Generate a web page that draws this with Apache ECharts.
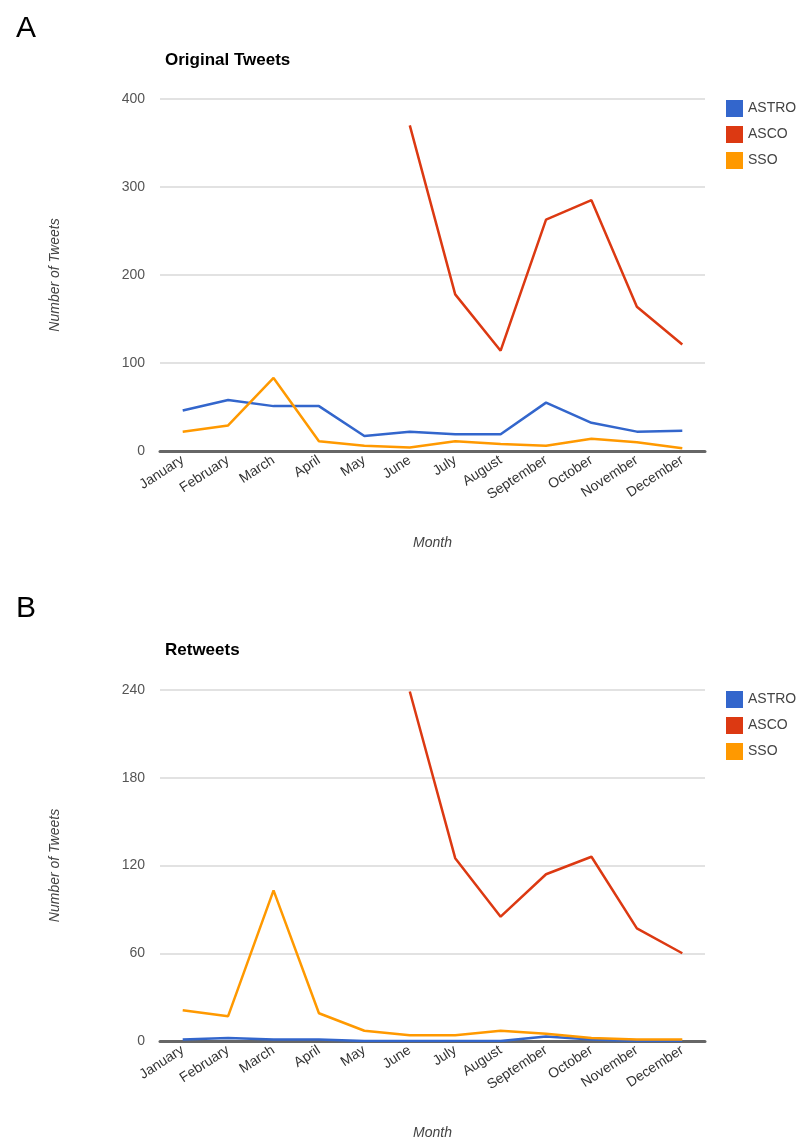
<!DOCTYPE html>
<html>
<head>
<meta charset="utf-8">
<script src="https://cdn.jsdelivr.net/npm/echarts@6/dist/echarts.min.js"></script>
<style>
  html, body { margin: 0; padding: 0; background: #fff; }
  #main { width: 808px; height: 1142px; }
</style>
</head>
<body>
<div id="main"></div>
<script>
// months on the x axis
var months = ['January', 'February', 'March', 'April', 'May', 'June',
              'July', 'August', 'September', 'October', 'November', 'December'];

// A: original tweets
var origAstro = [46, 58, 51, 51, 17, 22, 19, 19, 55, 32, 22, 23];
var origAsco  = [null, null, null, null, null, 370, 178, 114, 263, 285, 164, 121];
var origSso   = [22, 29, 83, 11, 6, 4, 11, 8, 6, 14, 10, 3];

// B: retweets
var rtAstro = [1, 2, 1, 1, 0, 0, 0, 0, 3, 1, 0, 0];
var rtAsco  = [null, null, null, null, null, 239, 125, 85, 114, 126, 77, 60];
var rtSso   = [21, 17, 103, 19, 7, 4, 4, 7, 5, 2, 1, 1];

var colors = ['#3366cc', '#dc3912', '#ff9900'];
var names = ['ASTRO', 'ASCO', 'SSO'];

var myChart = echarts.init(document.getElementById('main'), null, {renderer: 'canvas'});

function xAxisFor(idx) {
    return {
        type: 'category',
        gridIndex: idx,
        data: months,
        boundaryGap: true,
        name: 'Month',
        nameLocation: 'middle',
        nameGap: 85,
        nameTextStyle: {fontStyle: 'italic', fontSize: 14, color: '#444', fontFamily: 'Arial'},
        axisLine: {lineStyle: {color: '#666', width: 3}},
        axisTick: {show: false},
        axisLabel: {rotate: 33, fontSize: 14, color: '#333', fontFamily: 'Arial', margin: 8, interval: 0},
        splitLine: {show: false}
    };
}

function yAxisFor(idx, max, step) {
    return {
        type: 'value',
        gridIndex: idx,
        min: 0,
        max: max,
        interval: step,
        name: 'Number of Tweets',
        nameLocation: 'middle',
        nameGap: 98,
        nameRotate: 90,
        nameTextStyle: {fontStyle: 'italic', fontSize: 14, color: '#444', fontFamily: 'Arial'},
        axisLine: {show: false},
        axisTick: {show: false},
        axisLabel: {fontSize: 14, color: '#555', fontFamily: 'Arial', margin: 15},
        splitLine: {lineStyle: {color: '#d9d9d9', width: 1.5}}
    };
}

function lineSeries(name, data, xi, color) {
    return {
        name: name,
        type: 'line',
        xAxisIndex: xi,
        yAxisIndex: xi,
        data: data,
        showSymbol: false,
        connectNulls: false,
        animation: false,
        lineStyle: {color: color, width: 2.5},
        itemStyle: {color: color}
    };
}

function legendFor(top) {
    return {
        data: names,
        orient: 'vertical',
        left: 721,
        top: top,
        icon: 'rect',
        itemWidth: 17,
        itemHeight: 17,
        itemGap: 9,
        textStyle: {fontSize: 14, color: '#444', fontFamily: 'Arial'}
    };
}

option = {
    color: colors,
    title: [
        {text: 'A', left: 11, top: 9, textStyle: {fontSize: 30, fontWeight: 'normal', color: '#000', fontFamily: 'Arial'}},
        {text: 'Original Tweets', left: 160, top: 47, textStyle: {fontSize: 17, fontWeight: 'bold', color: '#000', fontFamily: 'Arial'}},
        {text: 'B', left: 11, top: 589, textStyle: {fontSize: 30, fontWeight: 'normal', color: '#000', fontFamily: 'Arial'}},
        {text: 'Retweets', left: 160, top: 637, textStyle: {fontSize: 17, fontWeight: 'bold', color: '#000', fontFamily: 'Arial'}}
    ],
    legend: [legendFor(95), legendFor(686)],
    grid: [
        {left: 160, width: 545, top: 99, height: 352},
        {left: 160, width: 545, top: 690, height: 351}
    ],
    xAxis: [xAxisFor(0), xAxisFor(1)],
    yAxis: [yAxisFor(0, 400, 100), yAxisFor(1, 240, 60)],
    series: [
        lineSeries('ASTRO', origAstro, 0, colors[0]),
        lineSeries('ASCO', origAsco, 0, colors[1]),
        lineSeries('SSO', origSso, 0, colors[2]),
        lineSeries('ASTRO', rtAstro, 1, colors[0]),
        lineSeries('ASCO', rtAsco, 1, colors[1]),
        lineSeries('SSO', rtSso, 1, colors[2])
    ]
};

myChart.setOption(option);
</script>
</body>
</html>
